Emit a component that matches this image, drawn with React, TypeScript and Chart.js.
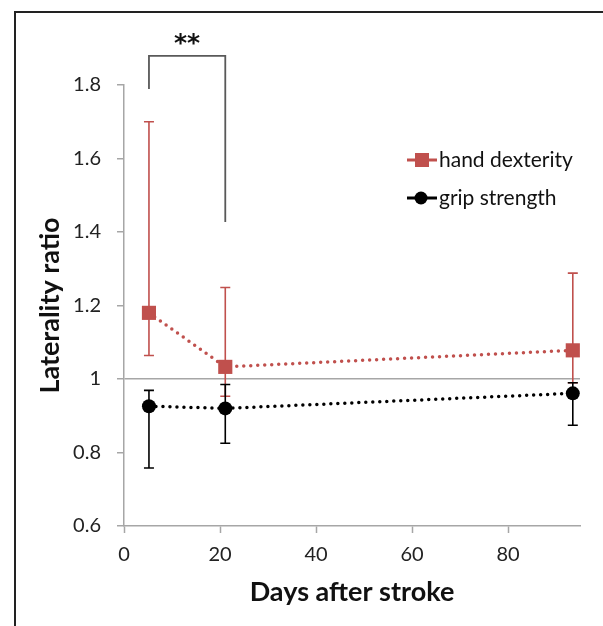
import React, { useEffect, useRef } from "react";
import { Chart, registerables } from "chart.js";

Chart.register(...registerables);

const days = [5.2, 21.1, 93.5];
const dexterity = [1.18, 1.033, 1.078];
const dexterityHigh = [1.7, 1.249, 1.288];
const dexterityLow = [1.064, 0.953, 0.99];
const grip = [0.926, 0.92, 0.961];
const gripHigh = [0.969, 0.985, 0.99];
const gripLow = [0.758, 0.825, 0.874];
const xTicks = [0, 20, 40, 60, 80];
const yTicks = [0.6, 0.8, 1.0, 1.2, 1.4, 1.6, 1.8];
const seriesNames = ["hand dexterity", "grip strength"];
const sigMark = "**";
const sigPair = [0, 1];
const sigLevels = [1.879, 1.789, 1.427];

const RED = "#C0504D";
const BLACK = "#000000";
const AXIS = "#a6a6a6";
const FONT = "Lato, 'Open Sans', sans-serif";

export default function App() {
  const ref = useRef<HTMLCanvasElement | null>(null);

  useEffect(() => {
    if (!ref.current) return;
    const errorLow = [dexterityLow, gripLow];
    const errorHigh = [dexterityHigh, gripHigh];
    const colors = [RED, BLACK];

    const plugin = {
      id: "extras",
      beforeDatasetsDraw(chart: any) {
        const ctx = chart.ctx;
        const xs = chart.scales.x;
        const ys = chart.scales.y;
        ctx.save();
        for (let s = 0; s < 2; s++) {
          ctx.strokeStyle = colors[s];
          ctx.lineWidth = 1.6;
          for (let i = 0; i < days.length; i++) {
            const px = xs.getPixelForValue(days[i]);
            const lo = ys.getPixelForValue(errorLow[s][i]);
            const hi = ys.getPixelForValue(errorHigh[s][i]);
            ctx.beginPath();
            ctx.moveTo(px, lo);
            ctx.lineTo(px, hi);
            ctx.moveTo(px - 5, lo);
            ctx.lineTo(px + 5, lo);
            ctx.moveTo(px - 5, hi);
            ctx.lineTo(px + 5, hi);
            ctx.stroke();
          }
        }
        ctx.restore();
      },
      afterDraw(chart: any) {
        const ctx = chart.ctx;
        const xs = chart.scales.x;
        const ys = chart.scales.y;
        const area = chart.chartArea;
        ctx.save();
        // significance bracket
        const x1 = xs.getPixelForValue(days[sigPair[0]]);
        const x2 = xs.getPixelForValue(days[sigPair[1]]);
        const yTop = ys.getPixelForValue(sigLevels[0]);
        const yL = ys.getPixelForValue(sigLevels[1]);
        const yR = ys.getPixelForValue(sigLevels[2]);
        ctx.strokeStyle = "#595959";
        ctx.lineWidth = 1.8;
        ctx.beginPath();
        ctx.moveTo(x1, yL);
        ctx.lineTo(x1, yTop);
        ctx.lineTo(x2, yTop);
        ctx.lineTo(x2, yR);
        ctx.stroke();
        ctx.fillStyle = "#111";
        ctx.font = "bold 25px 'DejaVu Sans', sans-serif";
        ctx.textAlign = "center";
        ctx.textBaseline = "middle";
        ctx.fillText(sigMark, (x1 + x2) / 2, yTop - 11);

        // legend
        const lx = area.left + 283;
        const ly = [area.top + 75, area.top + 113];
        for (let s = 0; s < 2; s++) {
          const y = ly[s];
          ctx.strokeStyle = colors[s];
          ctx.lineWidth = 3;
          ctx.beginPath();
          ctx.moveTo(lx, y);
          ctx.lineTo(lx + 30, y);
          ctx.stroke();
          ctx.fillStyle = colors[s];
          if (s === 0) {
            ctx.fillRect(lx + 15 - 7, y - 7, 14, 14);
          } else {
            ctx.beginPath();
            ctx.arc(lx + 14, y, 6.5, 0, Math.PI * 2);
            ctx.fill();
          }
          ctx.fillStyle = "#111";
          ctx.font = `21px ${FONT}`;
          ctx.textAlign = "left";
          ctx.textBaseline = "middle";
          ctx.fillText(seriesNames[s], lx + 32, y);
        }
        ctx.restore();
      },
    };

    const chart = new Chart(ref.current, {
      type: "line",
      data: {
        datasets: [
          {
            label: seriesNames[0],
            data: days.map((d, i) => ({ x: d, y: dexterity[i] })),
            borderColor: RED,
            backgroundColor: RED,
            borderWidth: 3.5,
            borderDash: [0, 7],
            borderCapStyle: "round",
            pointStyle: "rect",
            pointRadius: 10,
            pointBorderWidth: 0,
            tension: 0,
          },
          {
            label: seriesNames[1],
            data: days.map((d, i) => ({ x: d, y: grip[i] })),
            borderColor: BLACK,
            backgroundColor: BLACK,
            borderWidth: 3.5,
            borderDash: [0, 7],
            borderCapStyle: "round",
            pointStyle: "circle",
            pointRadius: 7,
            pointBorderWidth: 0,
            tension: 0,
          },
        ],
      },
      options: {
        animation: false,
        responsive: false,
        maintainAspectRatio: false,
        layout: { padding: { left: 0, top: 85, right: 23, bottom: 0 } },
        plugins: { legend: { display: false }, tooltip: { enabled: false } },
        scales: {
          x: {
            type: "linear",
            min: 0,
            max: 95,
            afterBuildTicks: (s: any) => {
              s.ticks = xTicks.map((v) => ({ value: v }));
            },
            afterFit: (s: any) => {
              s.height = 100;
            },
            border: { color: AXIS, width: 1.5 },
            grid: { drawOnChartArea: false, drawTicks: true, tickLength: 7, tickColor: AXIS, tickWidth: 1.5 },
            ticks: { color: "#222", font: { family: FONT, size: 20 }, padding: 10, maxRotation: 0 },
            title: {
              display: true,
              text: "Days after stroke",
              color: "#111",
              font: { family: FONT, size: 27, weight: "bold" },
              padding: { top: 0, bottom: 18 },
            },
          },
          y: {
            type: "linear",
            min: 0.6,
            max: 1.8,
            afterBuildTicks: (s: any) => {
              s.ticks = yTicks.map((v) => ({ value: v }));
            },
            afterFit: (s: any) => {
              s.width = 124;
            },
            border: { color: AXIS, width: 1.5 },
            grid: {
              color: (c: any) => (c.tick && Math.abs(c.tick.value - 1) < 1e-9 ? AXIS : "rgba(0,0,0,0)"),
              lineWidth: 1.5,
              drawTicks: true,
              tickLength: 7,
              tickColor: AXIS,
              tickWidth: 1.5,
            },
            ticks: {
              color: "#222",
              font: { family: FONT, size: 20 },
              padding: 16,
              callback: (v: any) => (Math.abs(v - 1) < 1e-9 ? "1" : Number(v).toFixed(1)),
            },
            title: {
              display: true,
              text: "Laterality ratio",
              color: "#111",
              font: { family: FONT, size: 27, weight: "bold" },
              padding: { top: 34, bottom: 0 },
            },
          },
        },
      },
      plugins: [plugin],
    } as any);
    return () => chart.destroy();
  }, []);

  return (
    <div style={{ position: "fixed", left: 0, top: 0, width: 603, height: 626, overflow: "hidden", background: "#fff" }}>
      <div
        style={{
          position: "absolute",
          left: 14,
          top: 11,
          width: 700,
          height: 700,
          border: "2.5px solid #222",
          boxSizing: "border-box",
        }}
      />
      <canvas ref={ref} width={603} height={626} style={{ position: "absolute", left: 0, top: 0, width: 603, height: 626 }} />
    </div>
  );
}
